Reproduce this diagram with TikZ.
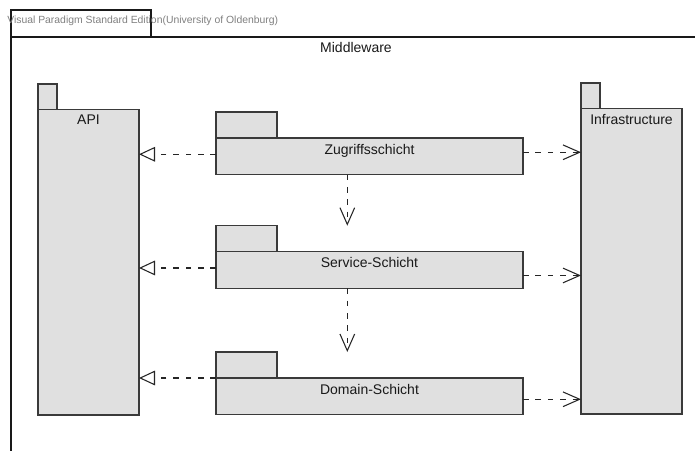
\documentclass[tikz,border=0pt]{standalone}
\usepackage{fontspec}
\setmainfont{Liberation Sans}
\usetikzlibrary{arrows.meta,calc}
\definecolor{pkgfill}{HTML}{E0E0E0}
\definecolor{linec}{HTML}{3A3A3A}
\definecolor{wmark}{HTML}{808080}
\begin{document}
\begin{tikzpicture}[x=0.75pt,y=-0.75pt,
  pkg/.style={draw=linec, fill=pkgfill, line width=0.85pt, inner sep=0pt, outer sep=0pt, anchor=north west},
  lbl/.style={inner sep=0pt, anchor=base, font=\fontsize{10.5pt}{12pt}\selectfont, text=black!90},
  dep/.style={draw=black!85, line width=0.8pt, dash pattern=on 4.2pt off 5.1pt},
  realize/.style={dep, -{Triangle[open, length=12pt, width=11pt, line width=0.8pt]}},
  use/.style={dep, -{Straight Barb[length=12.5pt, width=11pt, line width=0.8pt]}},
  frame/.style={draw=black!90, line width=0.85pt}]
\useasboundingbox (0,0) rectangle (695,450);
% outer frame
\draw[frame] (11,452) -- (11,37) -- (697,37);
\draw[frame] (11,37) -- (11,10) -- (151,10) -- (151,37);
\node[inner sep=0pt, anchor=base west, text=wmark, font=\fontsize{7.8pt}{9pt}\selectfont] (wm) at (7,23) {Visual Paradigm Standard Edition(University of Oldenburg)};
\node[lbl] (mw) at (356,52) {Middleware};
% API
\node[pkg, minimum width=14.25pt, minimum height=19.5pt] (apitab) at (38,84) {};
\node[pkg, minimum width=75.75pt, minimum height=229pt] (api) at (38,109.7) {};
\node[lbl] (apiT) at ($(api.north)+(0,15)$) {API};
% Infrastructure
\node[pkg, minimum width=14.25pt, minimum height=19.5pt] (inftab) at (581,83) {};
\node[pkg, minimum width=75.75pt, minimum height=229pt] (inf) at (581,108.7) {};
\node[lbl] (infT) at ($(inf.north)+(0,15.5)$) {Infrastructure};
% Zugriffsschicht
\node[pkg, minimum width=45.75pt, minimum height=19.5pt] (zugtab) at (216,112) {};
\node[pkg, minimum width=230.25pt, minimum height=27.4pt] (zug) at (216,138) {};
\node[lbl] (zugT) at ($(zug.north)+(0,16)$) {Zugriffsschicht};
% Service-Schicht
\node[pkg, minimum width=45.75pt, minimum height=19.5pt] (svctab) at (216,225.7) {};
\node[pkg, minimum width=230.25pt, minimum height=27.4pt] (svc) at (216,251.7) {};
\node[lbl] (svcT) at ($(svc.north)+(0,16)$) {Service-Schicht};
% Domain-Schicht
\node[pkg, minimum width=45.75pt, minimum height=19.5pt] (domtab) at (216,352) {};
\node[pkg, minimum width=230.25pt, minimum height=27.4pt] (dom) at (216,378) {};
\node[lbl] (domT) at ($(dom.north)+(0,16)$) {Domain-Schicht};
% connectors to API
\draw[realize] ($(zug.west)+(0,-2)$) -- (api.east |- {$(zug.west)+(0,-2)$});
\draw[realize] ($(svc.west)+(0,-2)$) -- (api.east |- {$(svc.west)+(0,-2)$});
\draw[realize] (dom.north west) -- (api.east |- dom.north west);
% connectors to Infrastructure
\draw[use] ($(zug.east)+(0,-4)$) -- (inf.west |- {$(zug.east)+(0,-4)$});
\draw[use] ($(svc.east)+(0,5.5)$) -- (inf.west |- {$(svc.east)+(0,5.5)$});
\draw[use] ($(dom.east)+(0,3)$) -- (inf.west |- {$(dom.east)+(0,3)$});
% vertical connectors
\coordinate (vx) at (347.3,0);
\draw[use] (zug.south -| vx) -- (svctab.north -| vx);
\draw[use] (svc.south -| vx) -- (domtab.north -| vx);
\end{tikzpicture}
\end{document}
